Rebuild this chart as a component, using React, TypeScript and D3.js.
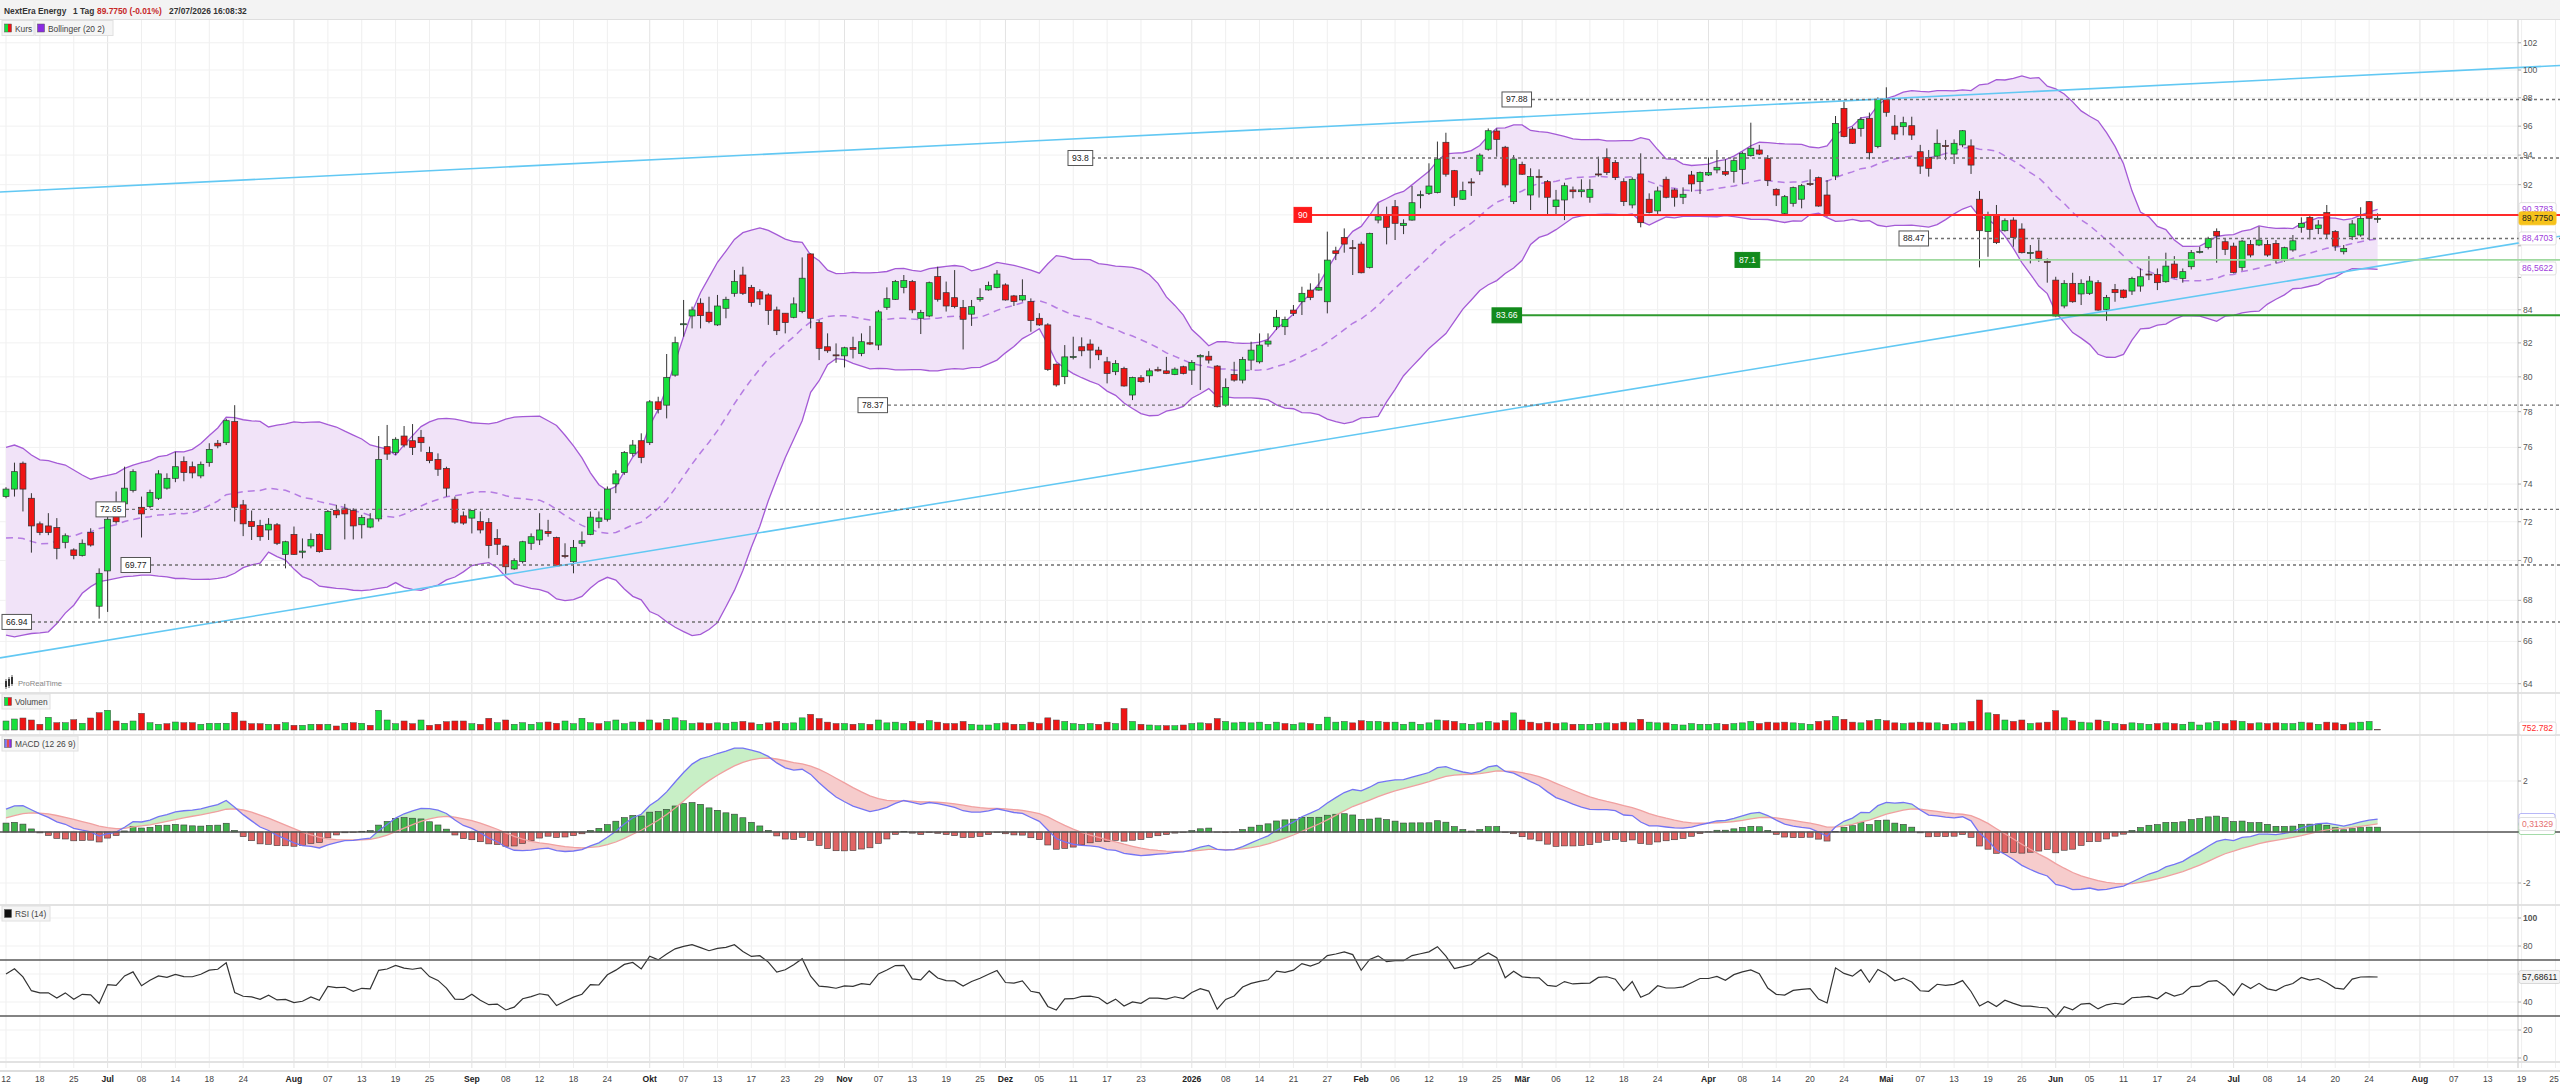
import { useEffect, useRef } from "react";
import * as d3 from "d3";

const W = 2560;
const H = 1086;
const FONT = "'Liberation Sans', Arial, Helvetica, sans-serif";

// trading calendar
const firstDay = "2025-06-12";
const lastAxisDay = "2026-08-31";
const marketHolidays = [
  "2025-06-19", "2025-07-04", "2025-09-01", "2025-11-27", "2025-12-25",
  "2026-01-01", "2026-01-19", "2026-02-16", "2026-04-03", "2026-05-25",
  "2026-06-19", "2026-07-03",
];

// daily candles [open, high, low, close]
const candlesJun25 = [
  [73.33, 73.83, 73.24, 73.73], [73.73, 75.16, 73.33, 74.67], [75.13, 75.22, 72.54, 73.73],
  [73.24, 73.51, 70.4, 71.78], [71.89, 72.01, 71.3, 71.44], [71.78, 72.45, 71.3, 71.44],
  [71.7, 72.19, 70.06, 70.62], [70.93, 71.39, 70.62, 71.27], [70.54, 70.62, 70.06, 70.25],
  [70.25, 71.08, 70.2, 70.88], [71.44, 71.66, 70.71, 70.79], [67.71, 69.6, 67.1, 69.35],
];
const candlesJul25 = [
  [69.47, 72.9, 67.43, 72.13], [72.6, 73.6, 71.9, 72.0], [72.94, 74.94, 72.71, 73.78],
  [73.66, 74.8, 73.55, 74.67], [72.76, 73.33, 71.18, 72.41], [72.8, 73.7, 72.71, 73.55],
  [73.24, 74.75, 73.15, 74.55], [73.78, 74.58, 73.7, 74.31], [74.31, 75.76, 74.1, 74.94],
  [75.22, 75.5, 74.15, 74.62], [74.94, 75.22, 74.31, 74.6], [74.44, 75.22, 74.31, 75.07],
  [75.16, 76.23, 74.94, 75.89], [76.23, 76.41, 75.95, 76.08], [76.26, 77.6, 76.13, 77.49],
  [77.44, 78.37, 72.01, 72.76], [72.89, 73.15, 71.25, 71.89], [72.01, 72.59, 71.05, 71.75],
  [71.8, 72.1, 71.01, 71.22], [71.57, 72.19, 71.05, 71.87], [71.84, 71.93, 70.79, 70.88],
  [70.31, 71.01, 69.6, 70.96],
];
const candlesAug25 = [
  [71.34, 71.75, 70.28, 70.31], [70.42, 71.13, 70.11, 70.48], [70.74, 71.39, 70.62, 71.08],
  [71.34, 71.39, 70.4, 70.45], [70.57, 72.62, 70.54, 72.54], [72.59, 72.89, 72.19, 72.36],
  [72.68, 72.94, 71.08, 72.41], [72.59, 72.71, 71.08, 71.78], [71.84, 72.36, 71.13, 72.22],
  [71.72, 72.45, 71.66, 72.15], [72.15, 76.63, 72.01, 75.34], [76.04, 77.25, 75.31, 75.63],
  [75.71, 76.56, 75.58, 76.45], [76.63, 77.19, 76.0, 76.13], [76.37, 77.3, 75.58, 76.0],
  [76.56, 76.97, 75.76, 76.26], [75.71, 76.04, 75.13, 75.27], [75.34, 75.67, 74.44, 74.8],
  [74.85, 74.94, 73.33, 73.78], [73.19, 73.33, 71.89, 71.98], [72.31, 72.54, 71.84, 71.93],
];
const candlesSep25 = [
  [72.19, 72.62, 71.39, 72.59], [72.01, 72.54, 71.39, 71.57], [71.96, 72.19, 70.11, 70.76],
  [71.13, 71.61, 70.28, 70.83], [70.74, 70.79, 69.26, 69.68], [69.57, 70.11, 69.52, 69.99],
  [69.94, 71.01, 69.85, 70.96], [70.88, 71.39, 70.54, 71.22], [71.05, 72.45, 70.79, 71.57],
  [71.49, 72.1, 71.22, 71.39], [71.18, 71.22, 69.68, 69.72], [70.25, 70.88, 70.11, 70.2],
  [69.94, 71.05, 69.35, 70.67], [70.88, 71.49, 70.71, 71.01], [71.34, 72.54, 71.3, 72.24],
  [72.01, 72.54, 71.66, 72.2], [72.13, 73.87, 72.01, 73.73], [74.01, 74.75, 73.51, 74.55],
  [74.62, 75.8, 74.5, 75.71], [75.67, 76.41, 75.5, 76.13], [76.37, 76.78, 75.13, 75.45],
];
const candlesOct25 = [
  [76.26, 78.66, 76.13, 78.56], [78.56, 78.85, 77.9, 78.13], [78.37, 81.34, 77.62, 79.97],
  [80.1, 82.37, 80.01, 82.01], [83.12, 84.6, 82.37, 83.15], [83.62, 84.19, 82.87, 83.99],
  [84.4, 84.7, 82.87, 83.64], [83.85, 84.8, 83.18, 83.28], [83.08, 84.91, 83.02, 84.23],
  [84.09, 84.8, 83.48, 84.64], [85.01, 86.46, 84.8, 85.74], [86.15, 86.67, 84.91, 85.01],
  [85.38, 85.53, 84.19, 84.44], [85.11, 85.26, 84.29, 84.66], [84.91, 85.01, 83.08, 83.95],
  [83.99, 84.19, 82.47, 82.73], [83.79, 83.79, 82.57, 83.22], [83.54, 84.76, 83.48, 84.36],
  [83.89, 87.26, 83.79, 85.95], [87.48, 87.52, 82.87, 83.48], [83.22, 83.38, 80.98, 81.67],
  [81.77, 82.57, 81.41, 81.53], [81.29, 81.97, 80.82, 81.27],
];
const candlesNov25 = [
  [81.23, 81.77, 80.55, 81.71], [81.73, 82.37, 81.08, 81.61], [81.37, 82.57, 81.21, 82.07],
  [82.01, 83.02, 81.87, 81.93], [81.87, 83.99, 81.57, 83.87], [84.15, 85.38, 83.99, 84.68],
  [84.64, 85.84, 84.6, 85.74], [85.38, 86.15, 85.01, 85.8], [85.74, 85.84, 83.79, 83.99],
  [83.48, 83.99, 82.53, 83.83], [83.62, 85.74, 83.54, 85.67], [86.05, 86.67, 84.5, 84.64],
  [85.05, 85.74, 83.89, 84.23], [84.74, 86.46, 84.09, 84.19], [84.13, 84.6, 81.61, 83.42],
  [83.73, 84.6, 83.02, 84.19], [84.64, 85.32, 84.5, 84.76], [85.22, 85.74, 85.17, 85.49],
  [85.38, 86.46, 85.32, 86.21],
];
const candlesDec25 = [
  [85.53, 85.63, 84.56, 84.6], [84.85, 84.91, 84.23, 84.5], [84.6, 85.88, 84.5, 84.87],
  [84.5, 84.7, 82.67, 83.34], [83.48, 83.79, 83.02, 83.08], [83.08, 83.18, 80.35, 80.43],
  [80.74, 80.78, 79.43, 79.53], [80.01, 81.87, 79.58, 81.17], [81.17, 82.37, 81.02, 81.19],
  [81.77, 82.33, 81.21, 81.53], [81.93, 82.21, 80.49, 81.57], [81.57, 81.77, 80.98, 81.29],
  [80.88, 81.17, 79.62, 80.2], [80.3, 80.98, 80.1, 80.78], [80.49, 80.59, 79.43, 79.47],
  [78.95, 80.01, 78.66, 79.97], [79.95, 80.1, 79.66, 79.72], [80.06, 80.49, 79.66, 80.35],
  [80.43, 80.59, 80.3, 80.35], [80.35, 81.17, 80.16, 80.2], [80.14, 80.55, 80.1, 80.45],
  [80.59, 80.65, 80.14, 80.2],
];
const candlesJan26 = [
  [80.39, 80.98, 79.53, 80.84], [81.17, 81.33, 79.24, 81.25], [81.21, 81.51, 80.78, 80.98],
  [80.63, 80.69, 78.24, 78.28], [78.37, 79.91, 78.28, 79.39], [80.14, 80.88, 79.72, 79.81],
  [79.81, 81.17, 79.62, 81.02], [80.98, 82.07, 80.39, 81.57], [80.88, 82.57, 80.78, 81.87],
  [81.93, 82.57, 81.77, 82.11], [82.97, 83.99, 82.77, 83.54], [82.97, 83.58, 82.47, 83.41],
  [83.98, 84.29, 83.62, 83.78], [84.49, 85.42, 83.68, 85.01], [85.21, 85.63, 84.59, 84.76],
  [85.21, 86.25, 85.17, 85.38], [84.49, 88.91, 83.78, 87.09], [87.68, 87.94, 87.09, 87.51],
  [88.54, 89.12, 87.56, 88.11], [87.88, 88.37, 86.15, 87.86],
];
const candlesFeb26 = [
  [88.11, 88.26, 86.25, 86.29], [86.63, 88.84, 86.56, 88.8], [89.66, 90.76, 89.45, 89.88],
  [89.99, 90.54, 88.09, 89.19], [90.54, 90.98, 88.37, 89.45], [89.3, 89.71, 88.75, 89.45],
  [89.66, 91.91, 89.62, 90.8], [91.31, 91.6, 90.43, 91.33], [91.42, 93.44, 91.31, 91.91],
  [91.47, 94.93, 91.42, 93.73], [94.88, 95.54, 92.54, 92.7], [92.94, 92.99, 90.58, 91.16],
  [91.03, 92.2, 90.98, 91.6], [92.18, 92.43, 91.25, 92.13], [92.92, 94.12, 92.65, 94.0],
  [94.4, 95.84, 94.3, 95.68], [95.66, 95.84, 93.89, 95.08], [94.54, 94.63, 91.82, 91.98],
  [90.87, 94.0, 90.71, 93.73],
];
const candlesMar26 = [
  [93.37, 93.55, 92.65, 92.7], [91.31, 93.1, 90.32, 92.54], [92.56, 93.03, 91.14, 92.52],
  [92.2, 92.31, 89.99, 91.16], [90.54, 91.65, 89.99, 90.98], [90.98, 92.13, 89.66, 91.93],
  [91.65, 91.87, 91.09, 91.53], [91.53, 92.36, 91.16, 91.65], [91.16, 92.36, 90.8, 91.69],
  [92.72, 93.89, 92.54, 92.68], [93.82, 94.46, 92.65, 92.81], [93.5, 93.66, 92.31, 92.49],
  [92.2, 92.43, 90.58, 90.87], [90.65, 92.49, 90.43, 92.36], [92.72, 94.12, 89.19, 89.49],
  [91.03, 91.42, 90.1, 90.15], [90.26, 91.87, 90.06, 91.58], [92.36, 92.54, 91.09, 91.16],
  [91.65, 91.76, 90.54, 91.16], [91.16, 91.82, 90.71, 91.36], [92.65, 92.92, 91.53, 92.05],
  [92.2, 92.88, 91.38, 92.81],
];
const candlesApr26 = [
  [92.65, 93.84, 92.58, 92.81], [92.99, 94.35, 92.76, 93.17], [92.88, 93.71, 92.58, 92.7],
  [92.88, 93.84, 92.13, 93.62], [93.03, 94.23, 92.04, 94.12], [93.96, 96.24, 93.9, 94.47],
  [94.35, 94.7, 94.0, 94.07], [93.78, 94.0, 91.91, 92.27], [91.69, 91.76, 90.58, 91.31],
  [90.1, 91.31, 89.99, 91.2], [90.76, 91.87, 90.54, 91.8], [91.03, 92.05, 90.43, 91.93],
  [92.07, 93.03, 91.91, 92.02], [92.47, 92.54, 90.54, 90.58], [91.31, 92.31, 89.88, 89.95],
  [92.58, 96.71, 92.31, 96.19], [97.25, 97.72, 95.22, 95.27], [95.8, 95.96, 94.76, 94.81],
  [95.84, 96.62, 95.27, 96.47], [96.55, 96.95, 93.71, 94.16], [94.58, 98.03, 94.47, 97.89],
];
const candlesMay26 = [
  [97.89, 98.75, 96.66, 96.97], [96.0, 96.78, 95.04, 95.45], [95.96, 96.66, 95.36, 96.24],
  [96.03, 96.66, 95.04, 95.38], [94.23, 94.7, 92.72, 93.25], [93.84, 94.35, 92.54, 93.1],
  [93.93, 95.77, 93.71, 94.81], [94.65, 95.04, 93.66, 94.58], [94.07, 95.08, 93.39, 94.81],
  [94.7, 95.73, 94.54, 95.68], [94.63, 95.08, 92.72, 93.32], [91.03, 91.58, 86.63, 88.97],
  [88.91, 90.21, 87.3, 89.99], [89.99, 90.65, 88.11, 88.2], [88.97, 89.77, 88.91, 89.62],
  [89.66, 89.84, 87.94, 88.54], [89.08, 89.45, 87.51, 87.56], [87.51, 88.05, 86.88, 87.58],
  [87.66, 88.41, 86.98, 87.2], [87.0, 87.2, 85.67, 86.96],
];
const candlesJun26 = [
  [85.83, 86.04, 83.58, 83.62], [84.23, 85.83, 84.09, 85.63], [85.63, 86.29, 84.43, 84.49],
  [84.97, 85.88, 84.29, 85.63], [85.01, 86.08, 84.91, 85.77], [85.67, 85.83, 83.94, 83.98],
  [84.02, 84.91, 83.33, 84.76], [85.25, 85.59, 84.49, 85.05], [85.21, 85.25, 84.7, 84.76],
  [85.15, 86.04, 84.91, 85.94], [85.46, 86.56, 85.11, 86.04], [86.21, 87.34, 85.83, 86.17],
  [86.19, 86.56, 85.21, 85.67], [85.73, 87.56, 85.67, 86.71], [86.84, 87.34, 85.94, 86.0],
  [85.94, 86.56, 85.67, 86.36], [86.67, 87.73, 86.5, 87.56], [87.6, 87.94, 87.51, 87.64],
  [87.9, 88.58, 87.77, 88.47], [88.93, 89.12, 86.92, 88.63], [88.26, 88.47, 87.41, 87.77],
];
const candlesJul26 = [
  [87.98, 88.2, 86.25, 86.31], [86.63, 88.37, 86.42, 88.3], [88.09, 88.37, 87.26, 87.41],
  [88.05, 89.23, 87.98, 88.37], [88.09, 88.37, 87.3, 87.41], [88.15, 88.37, 86.88, 87.09],
  [87.09, 87.94, 86.98, 87.88], [87.73, 88.69, 87.62, 88.32], [89.19, 89.84, 88.84, 89.45],
  [89.84, 89.99, 88.41, 89.06], [89.12, 89.66, 88.75, 89.34], [90.15, 90.65, 88.47, 88.75],
  [88.91, 89.01, 87.68, 87.98], [87.62, 88.05, 87.45, 87.83], [88.58, 89.66, 88.37, 89.41],
  [88.69, 90.5, 88.58, 89.77], [90.87, 90.91, 88.37, 89.78], [89.74, 90.1, 89.48, 89.775],
];

// daily volume, millions of shares
const volumes = [
  12.6, 15.4, 16.8, 14, 8, 17.8, 10.2, 10.2, 14.4, 9.4, 16.8, 24.2,
  27.6, 12.6, 9.4, 12.6, 23.4, 10.2, 8, 8.8, 11.2, 10.2, 10.2, 8, 9.4, 9.4, 9.4, 24.8, 12.6, 8.8, 8.8, 8, 8, 10.2,
  6.6, 6.6, 8, 8, 8, 5.6, 9.4, 10.2, 9.4, 6.6, 27.6, 14, 8.8, 12.6, 8.8, 14, 6.6, 8, 11.6, 12.6, 12.6,
  8.8, 8, 16.4, 10.2, 14, 8, 10.2, 8, 10.2, 11.2, 9.4, 12.6, 8.8, 16.4, 10.2, 8.8, 11.6, 14, 8.8, 11.2, 11,
  14, 10, 15, 17, 13, 9, 10, 9, 10, 9, 11, 12, 10, 8, 10, 12, 9, 10, 17, 22, 16, 11, 9,
  9, 8, 9, 8, 14, 10, 11, 9, 12, 9, 13, 11, 9, 9, 12, 8, 7, 7, 9,
  10, 8, 8, 11, 9, 17, 14, 12, 9, 8, 9, 8, 11, 9, 30, 12, 8, 7, 6, 6, 6, 7,
  9, 10, 9, 16, 12, 10, 11, 10, 11, 8, 11, 9, 8, 10, 9, 8, 18, 11, 12, 10,
  13, 12, 12, 11, 11, 8, 11, 8, 10, 14, 13, 12, 9, 8, 10, 12, 10, 13, 24,
  14, 11, 9, 11, 9, 10, 8, 8, 8, 9, 10, 9, 11, 10, 15, 11, 10, 10, 8, 7, 9, 8,
  8, 9, 8, 9, 10, 12, 9, 11, 10, 11, 10, 9, 8, 12, 13, 19, 15, 11, 10, 13, 15,
  13, 10, 9, 10, 11, 10, 10, 8, 9, 10, 12, 42, 24, 22, 14, 12, 14, 9, 10, 11,
  27, 17, 13, 11, 10, 14, 12, 9, 8, 10, 9, 8, 9, 10, 9, 8, 11, 7, 10, 12, 9,
  13, 12, 9, 10, 9, 10, 9, 9, 11, 10, 8, 11, 10, 8, 10, 11, 12, 0.753,
];

// Bollinger (20, 2) values for the first 19 sessions
const bandWarmupUpper = [76.0, 76.13, 75.95, 75.58, 75.31, 75.27, 75.13, 75.03, 74.76, 74.49, 74.26, 74.37, 74.47, 74.58, 74.85, 75.03, 75.16, 75.27, 75.49];
const bandWarmupLower = [66.3, 66.22, 66.3, 66.38, 66.41, 66.46, 66.86, 67.37, 67.76, 68.35, 68.68, 68.93, 69.01, 69.1, 69.18, 69.21, 69.26, 69.26, 69.21];
// indicator state at the first session
const macdSeed = { ema12: 72.3, ema26: 71.4, signal: 0.55 };
const rsiSeed = { gain: 0.42, loss: 0.28 };

// drawn levels
const dottedLevels = [97.88, 93.8, 88.47, 78.37, 72.65, 69.77, 66.94];
const redLevel = 90;
const greenLevels = [87.1, 83.66];
// trend lines: [index A, price A, index B, price B]
const trendLines = [
  [0, 91.53, 280, 99.67],
  [0, 65.26, 280, 86.7],
];

const priceTicks = [64, 66, 68, 70, 72, 74, 76, 78, 80, 82, 84, 86, 88, 90, 92, 94, 96, 98, 100, 102];
const macdTicks = [-2, 0, 2];
const rsiTicks = [0, 20, 40, 60, 80, 100];
const rsiBands = [70, 30];

const lastBandLabels = ["90,3783", "88,4703", "86,5622"];
const lastBandValues = [90.3783, 88.4703, 86.5622];
const lastPriceLabel = "89,7750";
const lastVolumeLabel = "752.782";
const lastSignalLabel = "0,31329";
const lastSignalValue = 0.31329;
const lastRsiLabel = "57,68611";

const xTicks: [string, string][] = [
  ["2025-06-12", "12"], ["2025-06-18", "18"], ["2025-06-25", "25"], ["2025-07-01", "Jul"],
  ["2025-07-08", "08"], ["2025-07-14", "14"], ["2025-07-18", "18"], ["2025-07-24", "24"],
  ["2025-08-01", "Aug"], ["2025-08-07", "07"], ["2025-08-13", "13"], ["2025-08-19", "19"],
  ["2025-08-25", "25"], ["2025-09-02", "Sep"], ["2025-09-08", "08"], ["2025-09-12", "12"],
  ["2025-09-18", "18"], ["2025-09-24", "24"], ["2025-10-01", "Okt"], ["2025-10-07", "07"],
  ["2025-10-13", "13"], ["2025-10-17", "17"], ["2025-10-23", "23"], ["2025-10-29", "29"],
  ["2025-11-03", "Nov"], ["2025-11-07", "07"], ["2025-11-13", "13"], ["2025-11-19", "19"],
  ["2025-11-25", "25"], ["2025-12-01", "Dez"], ["2025-12-05", "05"], ["2025-12-11", "11"],
  ["2025-12-17", "17"], ["2025-12-23", "23"], ["2026-01-02", "2026"], ["2026-01-08", "08"],
  ["2026-01-14", "14"], ["2026-01-21", "21"], ["2026-01-27", "27"], ["2026-02-02", "Feb"],
  ["2026-02-06", "06"], ["2026-02-12", "12"], ["2026-02-19", "19"], ["2026-02-25", "25"],
  ["2026-03-02", "Mär"], ["2026-03-06", "06"], ["2026-03-12", "12"], ["2026-03-18", "18"],
  ["2026-03-24", "24"], ["2026-04-01", "Apr"], ["2026-04-08", "08"], ["2026-04-14", "14"],
  ["2026-04-20", "20"], ["2026-04-24", "24"], ["2026-05-01", "Mai"], ["2026-05-07", "07"],
  ["2026-05-13", "13"], ["2026-05-19", "19"], ["2026-05-26", "26"], ["2026-06-01", "Jun"],
  ["2026-06-05", "05"], ["2026-06-11", "11"], ["2026-06-17", "17"], ["2026-06-24", "24"],
  ["2026-07-01", "Jul"], ["2026-07-08", "08"], ["2026-07-14", "14"], ["2026-07-20", "20"],
  ["2026-07-24", "24"], ["2026-08-03", "Aug"], ["2026-08-07", "07"], ["2026-08-13", "13"],
  ["2026-08-19", "19"], ["2026-08-25", "25"],
];

const candles = [
  ...candlesJun25, ...candlesJul25, ...candlesAug25, ...candlesSep25, ...candlesOct25,
  ...candlesNov25, ...candlesDec25, ...candlesJan26, ...candlesFeb26, ...candlesMar26,
  ...candlesApr26, ...candlesMay26, ...candlesJun26, ...candlesJul26,
];

function tradingDays(from: string, to: string, off: string[]) {
  const out: string[] = [];
  const d = new Date(from + "T12:00:00Z");
  const end = new Date(to + "T12:00:00Z");
  while (d <= end) {
    const wd = d.getUTCDay();
    const s = d.toISOString().slice(0, 10);
    if (wd !== 0 && wd !== 6 && !off.includes(s)) out.push(s);
    d.setUTCDate(d.getUTCDate() + 1);
  }
  return out;
}

const GREEN = "#16e03c";
const RED = "#f01414";

export default function App() {
  const svgRef = useRef<SVGSVGElement>(null);

  useEffect(() => {
    document.body.style.margin = "0";
    const el = svgRef.current;
    if (!el) return;
    const svg = d3.select(el);
    svg.selectAll("*").remove();

    const days = tradingDays(firstDay, lastAxisDay, marketHolidays);
    const n = candles.length;
    const plotRight = 2518;

    const x = d3.scaleLinear().domain([0, 280]).range([6, 2377.6]);
    const y = d3.scaleLog().domain([100, 64]).range([70, 683.7]);
    const yv = d3.scaleLinear().domain([0, 49]).range([730, 695]);
    const ym = d3.scaleLinear().domain([2, -2]).range([781, 883]);
    const yr = d3.scaleLinear().domain([100, 0]).range([918, 1058]);

    // indicators
    const closes = candles.map((c) => c[3]);
    const bands = closes.map((_, i) => {
      if (i < 19) {
        const u = bandWarmupUpper[i];
        const l = bandWarmupLower[i];
        return { u, m: (u + l) / 2, l };
      }
      const win = closes.slice(i - 19, i + 1);
      const m = d3.mean(win)!;
      const sd = Math.sqrt(d3.mean(win, (v) => (v - m) ** 2)!);
      return { u: m + 2 * sd, m, l: m - 2 * sd };
    });
    let e12 = macdSeed.ema12;
    let e26 = macdSeed.ema26;
    let sig = macdSeed.signal;
    const macd = closes.map((c, i) => {
      if (i > 0) {
        e12 += ((c - e12) * 2) / 13;
        e26 += ((c - e26) * 2) / 27;
      }
      const m = e12 - e26;
      if (i > 0) sig += (m - sig) * 0.2;
      return { m, s: sig, h: m - sig };
    });
    let ag = rsiSeed.gain;
    let al = rsiSeed.loss;
    const rsi = closes.map((c, i) => {
      if (i > 0) {
        const d = c - closes[i - 1];
        ag = (ag * 13 + Math.max(d, 0)) / 14;
        al = (al * 13 + Math.max(-d, 0)) / 14;
      }
      return 100 - 100 / (1 + ag / al);
    });

    svg.append("rect").attr("width", W).attr("height", H).attr("fill", "#fff");

    const defs = svg.append("defs");
    const clip = (id: string, x0: number, y0: number, w: number, h: number) =>
      defs.append("clipPath").attr("id", id).append("rect").attr("x", x0).attr("y", y0).attr("width", w).attr("height", h);
    clip("cPrice", 0, 20, plotRight, 673);
    clip("cPriceWide", 0, 20, W, 673);
    clip("cMacd", 0, 736, plotRight, 168);
    clip("cRsi", 0, 906, plotRight, 152);

    // grid
    const grid = svg.append("g");
    const tickIdx = xTicks.map(([d, label]) => ({ i: days.indexOf(d), label, bold: !/^\d\d$/.test(label) }));
    tickIdx.forEach((t) => {
      grid.append("line").attr("x1", x(t.i)).attr("x2", x(t.i)).attr("y1", 20).attr("y2", 1068)
        .attr("stroke", t.bold ? "#e3e3e3" : "#efefef").attr("stroke-width", 1);
    });
    priceTicks.forEach((p) => {
      grid.append("line").attr("x1", 0).attr("x2", plotRight).attr("y1", y(p)).attr("y2", y(p)).attr("stroke", "#f1f1f1");
    });
    macdTicks.forEach((v) => {
      grid.append("line").attr("x1", 0).attr("x2", plotRight).attr("y1", ym(v)).attr("y2", ym(v)).attr("stroke", "#f1f1f1");
    });
    rsiTicks.forEach((v) => {
      grid.append("line").attr("x1", 0).attr("x2", plotRight).attr("y1", yr(v)).attr("y2", yr(v)).attr("stroke", "#f1f1f1");
    });

    // panel separators and price axis line
    [693, 735, 905, 1062].forEach((yy) => {
      svg.append("line").attr("x1", 0).attr("x2", W).attr("y1", yy).attr("y2", yy).attr("stroke", "#e2e2e2").attr("stroke-width", 2);
    });
    svg.append("line").attr("x1", plotRight).attr("x2", plotRight).attr("y1", 20).attr("y2", 1068).attr("stroke", "#d8d8d8").attr("stroke-width", 1.5);
    svg.append("line").attr("x1", 0).attr("x2", W).attr("y1", 1071).attr("y2", 1071).attr("stroke", "#dddddd").attr("stroke-width", 2);

    // ---- price panel
    const pg = svg.append("g").attr("clip-path", "url(#cPrice)");
    const wide = svg.append("g").attr("clip-path", "url(#cPriceWide)");

    pg.append("path").datum(bands)
      .attr("d", d3.area<any>().x((_, i) => x(i)).y0((d) => y(d.l)).y1((d) => y(d.u)))
      .attr("fill", "#f1e3f8");
    const bandLine = (k: "u" | "m" | "l") => d3.line<any>().x((_, i) => x(i)).y((d) => y(d[k]));
    pg.append("path").datum(bands).attr("d", bandLine("u")).attr("fill", "none").attr("stroke", "#a45ad6").attr("stroke-width", 1.3);
    pg.append("path").datum(bands).attr("d", bandLine("l")).attr("fill", "none").attr("stroke", "#a45ad6").attr("stroke-width", 1.3);
    pg.append("path").datum(bands).attr("d", bandLine("m")).attr("fill", "none").attr("stroke", "#b57ce2").attr("stroke-width", 1.5).attr("stroke-dasharray", "7,5");

    // trend lines, extended across the panel
    trendLines.forEach(([i1, p1, i2, p2]) => {
      const xa = x(i1), ya = y(p1), xb = x(i2), yb = y(p2);
      const k = (yb - ya) / (xb - xa);
      wide.append("line").attr("x1", 0).attr("y1", ya - k * xa).attr("x2", W).attr("y2", ya + k * (W - xa))
        .attr("stroke", "#62c8f3").attr("stroke-width", 1.6);
    });

    // dotted levels with boxed labels
    const levelLabelX = [1502, 1068, 1899, 858, 96, 121, 2];
    const boxLabel = (g: any, x0: number, yc: number, text: string, fill: string, stroke: string, color: string) => {
      const t = g.append("text").attr("x", x0 + 4).attr("y", yc + 3).text(text)
        .attr("font-family", FONT).attr("font-size", 8.6).attr("fill", color);
      const w = (t.node() as SVGTextElement).getComputedTextLength();
      g.insert("rect", () => t.node()).attr("x", x0).attr("y", yc - 7.5).attr("width", w + 8).attr("height", 15)
        .attr("fill", fill).attr("stroke", stroke).attr("stroke-width", 1);
      return x0 + w + 8;
    };
    dottedLevels.forEach((v, k) => {
      const lg = wide.append("g");
      const yy = y(v);
      lg.append("line").attr("x1", levelLabelX[k]).attr("x2", W).attr("y1", yy).attr("y2", yy)
        .attr("stroke", "#707070").attr("stroke-width", 1.4).attr("stroke-dasharray", "3,3");
      boxLabel(lg, levelLabelX[k], yy, String(v), "#fff", "#555", "#222");
    });
    {
      const yy = y(redLevel);
      wide.append("line").attr("x1", 1294).attr("x2", W).attr("y1", yy).attr("y2", yy).attr("stroke", "#ff2a2a").attr("stroke-width", 2);
      boxLabel(wide.append("g"), 1294, yy, String(redLevel), "#ff1a1a", "#ff1a1a", "#fff");
    }
    const greenStyle = [{ c: "#9fd99f", w: 1.6, lx: 1735 }, { c: "#2f9a2f", w: 2, lx: 1492 }];
    greenLevels.forEach((v, k) => {
      const yy = y(v);
      wide.append("line").attr("x1", greenStyle[k].lx).attr("x2", W).attr("y1", yy).attr("y2", yy)
        .attr("stroke", greenStyle[k].c).attr("stroke-width", greenStyle[k].w);
      boxLabel(wide.append("g"), greenStyle[k].lx, yy, String(v), "#128a1c", "#128a1c", "#fff");
    });

    // candles
    const bw = 6;
    pg.append("g").selectAll("line").data(candles).join("line")
      .attr("x1", (_, i) => x(i)).attr("x2", (_, i) => x(i))
      .attr("y1", (d) => y(d[1])).attr("y2", (d) => y(d[2]))
      .attr("stroke", "#333").attr("stroke-width", 1);
    pg.append("g").selectAll("rect").data(candles).join("rect")
      .attr("x", (_, i) => x(i) - bw / 2).attr("width", bw)
      .attr("y", (d) => y(Math.max(d[0], d[3])))
      .attr("height", (d) => Math.max(1, Math.abs(y(d[0]) - y(d[3]))))
      .attr("fill", (d) => (d[3] >= d[0] ? GREEN : RED))
      .attr("stroke", "#333").attr("stroke-width", 0.7);

    // ---- volume
    const vg = svg.append("g");
    vg.selectAll("rect").data(volumes).join("rect")
      .attr("x", (_, i) => x(i) - bw / 2).attr("width", bw)
      .attr("y", (d) => yv(d)).attr("height", (d) => Math.max(0.5, yv(0) - yv(d)))
      .attr("fill", (_, i) => (i === 0 || closes[i] >= closes[i - 1] ? GREEN : RED))
      .attr("stroke", "#444").attr("stroke-width", 0.5);

    // ---- MACD
    const mg = svg.append("g").attr("clip-path", "url(#cMacd)");
    mg.append("path").datum(macd)
      .attr("d", d3.area<any>().x((_, i) => x(i)).y0((d) => ym(d.s)).y1((d) => ym(Math.max(d.m, d.s))))
      .attr("fill", "#c8efc6");
    mg.append("path").datum(macd)
      .attr("d", d3.area<any>().x((_, i) => x(i)).y0((d) => ym(d.s)).y1((d) => ym(Math.min(d.m, d.s))))
      .attr("fill", "#f6cccc");
    svg.append("line").attr("x1", 0).attr("x2", W).attr("y1", ym(0)).attr("y2", ym(0)).attr("stroke", "#555").attr("stroke-width", 1.4);
    mg.append("g").selectAll("rect").data(macd).join("rect")
      .attr("x", (_, i) => x(i) - bw / 2).attr("width", bw)
      .attr("y", (d) => ym(Math.max(0, d.h))).attr("height", (d) => Math.abs(ym(d.h) - ym(0)))
      .attr("fill", (d) => (d.h >= 0 ? "#3fb34a" : "#e06464"))
      .attr("stroke", "#3a3a3a").attr("stroke-width", 0.6);
    mg.append("path").datum(macd).attr("d", d3.line<any>().x((_, i) => x(i)).y((d) => ym(d.s)))
      .attr("fill", "none").attr("stroke", "#f0a0a0").attr("stroke-width", 1.3);
    mg.append("path").datum(macd).attr("d", d3.line<any>().x((_, i) => x(i)).y((d) => ym(d.m)))
      .attr("fill", "none").attr("stroke", "#7474f4").attr("stroke-width", 1.3);

    // ---- RSI
    const rg = svg.append("g").attr("clip-path", "url(#cRsi)");
    rsiBands.forEach((v) => {
      svg.append("line").attr("x1", 0).attr("x2", W).attr("y1", yr(v)).attr("y2", yr(v)).attr("stroke", "#5a5a5a").attr("stroke-width", 1.5);
    });
    rg.append("path").datum(rsi).attr("d", d3.line<number>().x((_, i) => x(i)).y((d) => yr(d)))
      .attr("fill", "none").attr("stroke", "#333").attr("stroke-width", 1.2);

    // ---- right-hand value tags (positions collected first so ticks under them are hidden)
    const tags: { y: number; text: string; fill: string; stroke: string; color: string }[] = [
      { y: y(lastBandValues[2]), text: lastBandLabels[2], fill: "#fff", stroke: "#d8d8d8", color: "#a040dc" },
      { y: y(lastBandValues[1]), text: lastBandLabels[1], fill: "#fff", stroke: "#d8d8d8", color: "#a040dc" },
      { y: y(lastBandValues[0]), text: lastBandLabels[0], fill: "#fff", stroke: "#d8d8d8", color: "#a040dc" },
      { y: y(closes[n - 1]), text: lastPriceLabel, fill: "#f6c21a", stroke: "#f6c21a", color: "#222" },
      { y: yv(volumes[n - 1]) - 1, text: lastVolumeLabel, fill: "#fff", stroke: "#d8d8d8", color: "#ff2a2a" },
      { y: ym(lastSignalValue), text: lastSignalLabel, fill: "#fff", stroke: "#d8d8d8", color: "#e57070" },
      { y: yr(rsi[n - 1]), text: lastRsiLabel, fill: "#f4f4f4", stroke: "#cfcfcf", color: "#222" },
    ];
    const freeOfTags = (yy: number) => tags.every((t) => Math.abs(t.y - yy) > 10.5);

    const ax = svg.append("g").attr("font-family", FONT).attr("font-size", 8.6).attr("fill", "#555");
    const axisTick = (yy: number, label: string, bold = false) => {
      ax.append("line").attr("x1", plotRight).attr("x2", plotRight + 3).attr("y1", yy).attr("y2", yy).attr("stroke", "#aaa");
      if (!freeOfTags(yy)) return;
      ax.append("text").attr("x", plotRight + 5).attr("y", yy + 3).text(label).attr("font-weight", bold ? "bold" : "normal");
    };
    priceTicks.forEach((p) => axisTick(y(p), String(p)));
    macdTicks.forEach((v) => axisTick(ym(v), String(v)));
    rsiTicks.forEach((v) => axisTick(yr(v), String(v), v === 100));

    // MACD line and histogram tags peek out behind the signal tag
    const peek = svg.append("g");
    [{ dy: -4, c: "#6a6af0" }, { dy: 4, c: "#3fb34a" }].forEach((p) => {
      peek.append("rect").attr("x", plotRight + 1).attr("y", ym(lastSignalValue) + p.dy - 6.5).attr("width", 36).attr("height", 13)
        .attr("rx", 2).attr("fill", "#fff").attr("stroke", p.c).attr("stroke-width", 0.8).attr("stroke-opacity", 0.6);
    });

    tags.forEach((tg) => {
      const g = svg.append("g");
      const t = g.append("text").attr("x", plotRight + 4).attr("y", tg.y + 3).text(tg.text)
        .attr("font-family", FONT).attr("font-size", 8.6).attr("fill", tg.color);
      const w = (t.node() as SVGTextElement).getComputedTextLength();
      g.insert("rect", () => t.node()).attr("x", plotRight + 1).attr("y", tg.y - 6.5).attr("width", w + 6).attr("height", 13)
        .attr("rx", 2).attr("fill", tg.fill).attr("stroke", tg.stroke).attr("stroke-width", 0.8);
    });

    // ---- time axis
    const tx = svg.append("g").attr("font-family", FONT).attr("font-size", 8.6).attr("text-anchor", "middle");
    tickIdx.forEach((t) => {
      tx.append("text").attr("x", Math.min(x(t.i), W - 6)).attr("y", 1082).text(t.label)
        .attr("fill", t.bold ? "#222" : "#444").attr("font-weight", t.bold ? "bold" : "normal");
    });

    // ---- header and panel legends
    svg.append("rect").attr("x", 0).attr("y", 0).attr("width", W).attr("height", 19).attr("fill", "#f3f3f3");
    svg.append("line").attr("x1", 0).attr("x2", W).attr("y1", 19.5).attr("y2", 19.5).attr("stroke", "#dedede");
    const hd = svg.append("g").attr("font-family", FONT).attr("font-size", 8.4).attr("font-weight", "bold");
    hd.append("text").attr("x", 4).attr("y", 14).attr("fill", "#333").text("NextEra Energy");
    hd.append("text").attr("x", 73).attr("y", 14).attr("fill", "#333").text("1 Tag");
    hd.append("text").attr("x", 97).attr("y", 14).attr("fill", "#c62828").text("89.7750 (-0.01%)");
    hd.append("text").attr("x", 169).attr("y", 14).attr("fill", "#333").text("27/07/2026 16:08:32");

    const legend = (x0: number, y0: number, w: number, label: string, icon: string[]) => {
      const g = svg.append("g");
      g.append("rect").attr("x", x0).attr("y", y0).attr("width", w).attr("height", 15)
        .attr("fill", "#f5f5f5").attr("stroke", "#e0e0e0");
      const iw = 7 / icon.length;
      icon.forEach((c, k) => {
        g.append("rect").attr("x", x0 + 2.5 + k * iw).attr("y", y0 + 3.5).attr("width", iw).attr("height", 8).attr("fill", c);
      });
      g.append("rect").attr("x", x0 + 2.5).attr("y", y0 + 3.5).attr("width", 7).attr("height", 8).attr("fill", "none").attr("stroke", "#555").attr("stroke-width", 0.5);
      g.append("text").attr("x", x0 + 13).attr("y", y0 + 11).text(label)
        .attr("font-family", FONT).attr("font-size", 8.4).attr("fill", "#444");
    };
    legend(2, 20.5, 32, "Kurs", [GREEN, RED]);
    legend(35, 20.5, 78, "Bollinger (20 2)", ["#8a2be2"]);
    legend(2, 694, 48, "Volumen", [GREEN, RED]);
    legend(2, 736, 76, "MACD (12 26 9)", ["#7474f4", "#e05050", "#8a2be2"]);
    legend(2, 906, 48, "RSI (14)", ["#111"]);

    // ProRealTime mark
    const logo = svg.append("g");
    [[6, 681, 687], [9, 679, 686], [12, 677, 684]].forEach(([lx, a, b]) => {
      logo.append("line").attr("x1", lx).attr("x2", lx).attr("y1", a - 2).attr("y2", b + 2).attr("stroke", "#333").attr("stroke-width", 0.8);
      logo.append("rect").attr("x", lx - 1).attr("y", a).attr("width", 2).attr("height", b - a).attr("fill", "#333");
    });
    logo.append("text").attr("x", 18).attr("y", 686).text("ProRealTime")
      .attr("font-family", FONT).attr("font-size", 7.6).attr("fill", "#888");
  }, []);

  return <svg ref={svgRef} width={W} height={H} style={{ display: "block" }} />;
}
